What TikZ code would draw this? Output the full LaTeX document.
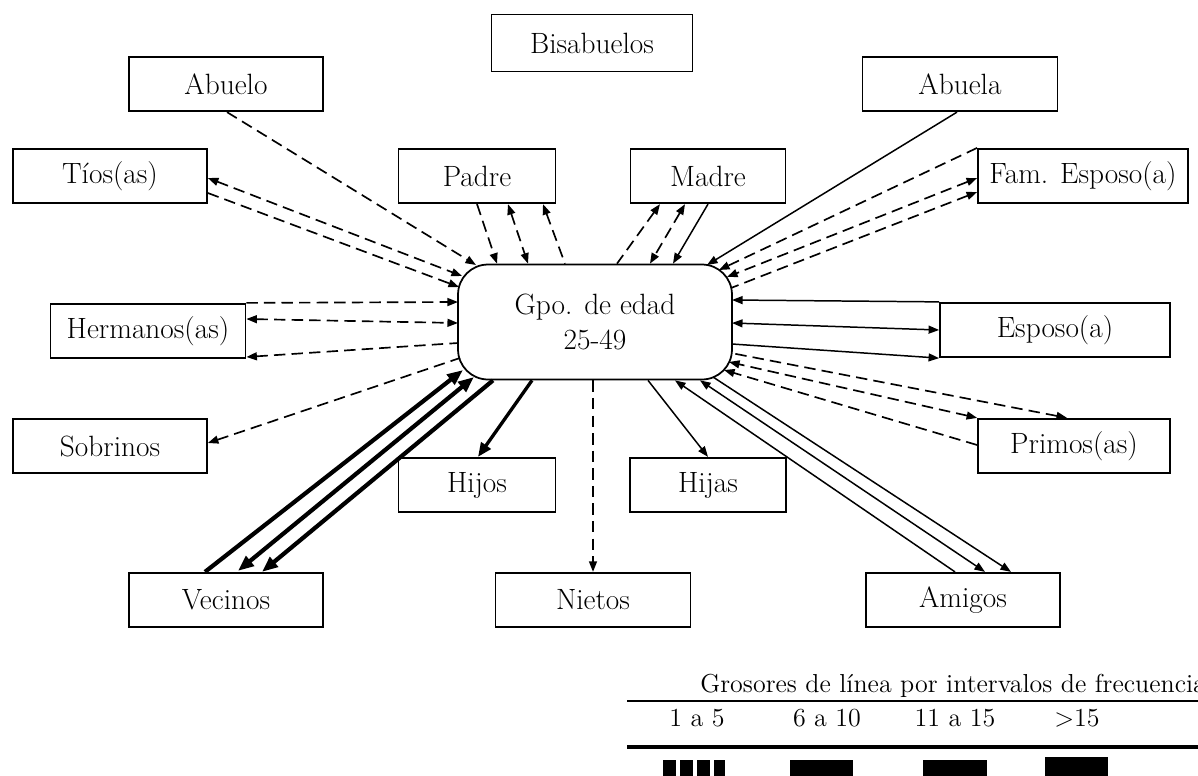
\documentclass[tikz,border=0pt]{standalone}
\usepackage{tikz}
\usetikzlibrary{arrows.meta, calc}

\begin{document}
\begin{tikzpicture}[x=0.02cm, y=-0.02cm,
      b/.style={draw, line width=1pt, minimum height=1.09cm, inner sep=0pt, font=\fontsize{16.7}{19.5}\selectfont},
      lg/.style={inner sep=0pt, font=\fontsize{14.8}{17}\selectfont},
      dsh/.style={line width=0.95pt, dash pattern=on 6.5pt off 3.5pt, >={Triangle[length=6pt,width=4.5pt]}},
      sol/.style={line width=0.85pt, >={Triangle[length=6pt,width=4.5pt]}},
      med/.style={line width=1.9pt, >={Triangle[length=8pt,width=6.5pt]}},
      thk/.style={line width=2.4pt, >={Triangle[length=9pt,width=7pt]}}]
    \useasboundingbox (0,0) rectangle (1198,775);
    \clip (0,0) rectangle (1198,775);
    % centro
    \node[b, minimum width=5.48cm, minimum height=2.3cm, rounded corners=0.6cm, align=center] (gpo) at (595,322) {Gpo. de edad\\25-49};
    % cajas
    \node[b, minimum width=4.02cm, minimum height=1.14cm] (bisab) at (592,43) {Bisabuelos};
    \node[b, minimum width=3.88cm] (abuelo) at (226,84) {Abuelo};
    \node[b, minimum width=3.9cm] (abuela) at (960,84) {Abuela};
    \node[b, minimum width=3.88cm] (tios) at (110,176) {Tíos(as)};
    \node[b, minimum width=3.14cm] (padre) at (477,176) {Padre};
    \node[b, minimum width=3.1cm] (madre) at (708,176) {Madre};
    \node[b, minimum width=4.2cm] (fam) at (1083,176) {Fam. Esposo(a)};
    \node[b, minimum width=3.9cm] (herm) at (148,331) {Hermanos(as)};
    \node[b, minimum width=4.6cm] (esposo) at (1055,330) {Esposo(a)};
    \node[b, minimum width=3.88cm] (sobr) at (110,446) {Sobrinos};
    \node[b, minimum width=3.84cm] (primos) at (1074,446) {Primos(as)};
    \node[b, minimum width=3.14cm] (hijos) at (477,485) {Hijos};
    \node[b, minimum width=3.12cm] (hijas) at (708,485) {Hijas};
    \node[b, minimum width=3.88cm] (vec) at (226,600) {Vecinos};
    \node[b, minimum width=3.9cm] (nietos) at (593,600) {Nietos};
    \node[b, minimum width=3.88cm] (amigos) at (963,600) {Amigos};
    % abuelos
    \draw[dsh,->] ($(abuelo.south)+(1,0)$) -- ($(gpo.center)+(-119,-57)$);
    \draw[sol,->] ($(abuela.south)+(-3,0)$) -- ($(gpo.center)+(112,-57)$);
    % tios
    \draw[dsh,<->] ($(tios.east)+(0,2)$) -- ($(gpo.center)+(-133,-46)$);
    \draw[dsh,->] ($(tios.east)+(0,17)$) -- ($(gpo.center)+(-136,-35)$);
    % padre, madre
    \draw[dsh,->] (padre.south) -- ($(gpo.north)+(-98,0)$);
    \draw[dsh,<->] ($(padre.south)+(31,0)$) -- ($(gpo.north)+(-67,0)$);
    \draw[dsh,<-] ($(padre.south)+(66,0)$) -- ($(gpo.north)+(-30,0)$);
    \draw[dsh,<-] ($(madre.south)+(-48,0)$) -- ($(gpo.north)+(22,0)$);
    \draw[dsh,<->] ($(madre.south)+(-23,0)$) -- ($(gpo.north)+(55,0)$);
    \draw[sol,->] (madre.south) -- ($(gpo.north)+(78,0)$);
    % familia del esposo
    \draw[dsh,->] (fam.north west) -- ($(gpo.center)+(124,-52)$);
    \draw[dsh,<->] ($(fam.west)+(0,2)$) -- ($(gpo.center)+(132,-45)$);
    \draw[dsh,<-] ($(fam.west)+(0,16)$) -- ($(gpo.center)+(136,-34)$);
    % hermanos, esposo
    \draw[dsh,->] (herm.north east) -- ($(gpo.center)+(-137,-20)$);
    \draw[dsh,<->] ($(herm.east)+(0,-12)$) -- ($(gpo.center)+(-137,1)$);
    \draw[dsh,<-] ($(herm.east)+(0,26)$) -- ($(gpo.center)+(-137,21)$);
    \draw[sol,->] (esposo.north west) -- ($(gpo.center)+(137,-22)$);
    \draw[sol,<->] (esposo.west) -- ($(gpo.center)+(137,1)$);
    \draw[sol,<-] (esposo.south west) -- ($(gpo.center)+(137,22)$);
    % sobrinos, primos
    \draw[dsh,<-] ($(sobr.east)+(0,-3)$) -- ($(gpo.center)+(-135,36)$);
    \draw[dsh,<-] ($(primos.north)+(-7,0)$) -- ($(gpo.center)+(136,31)$);
    \draw[dsh,<->] (primos.north west) -- ($(gpo.center)+(134,40)$);
    \draw[dsh,->] ($(primos.west)+(0,-1)$) -- ($(gpo.center)+(129,48)$);
    % vecinos
    \draw[thk,->] ($(vec.north)+(-21,0)$) -- ($(gpo.center)+(-132,48)$);
    \draw[thk,<->] ($(vec.north)+(12,-1)$) -- ($(gpo.center)+(-121,55)$);
    \draw[thk,<-] ($(vec.north)+(36,0)$) -- ($(gpo.south)+(-102,0)$);
    % hijos, nietos, hijas
    \draw[med,->] ($(gpo.south)+(-63,0)$) -- ($(hijos.north)+(1,0)$);
    \draw[dsh,->] (gpo.south -| nietos.north) -- (nietos.north);
    \draw[sol,->] ($(gpo.south)+(53,0)$) -- (hijas.north);
    % amigos
    \draw[sol,->] ($(amigos.north)+(-8,0)$) -- ($(gpo.south)+(80,0)$);
    \draw[sol,<->] ($(amigos.north)+(22,0)$) -- ($(gpo.south)+(105,0)$);
    \draw[sol,<-] ($(amigos.north)+(48,0)$) -- ($(gpo.center)+(118,55)$);
    % leyenda
    \node[lg, anchor=base west] (ltit) at (700,692) {Grosores de línea por intervalos de frecuencia};
    \draw[line width=1.2pt] (627,701) -- (1198,701);
    \node[lg, anchor=base] (l1) at (697,726) {1 a 5};
    \node[lg, anchor=base] (l2) at (827,726) {6 a 10};
    \node[lg, anchor=base] (l3) at (955,726) {11 a 15};
    \node[lg, anchor=base] (l4) at (1077,726) {>15};
    \draw[line width=2.4pt] (627,747) -- (1198,747);
    \draw[line width=17pt, dash pattern=on 7.4pt off 2.3pt] (663,775) -- (725,775);
    \fill (790,760) rectangle (853,790);
    \fill (923,760) rectangle (987,790);
    \fill (1045,757) rectangle (1108,790);
  \end{tikzpicture}
\end{document}
